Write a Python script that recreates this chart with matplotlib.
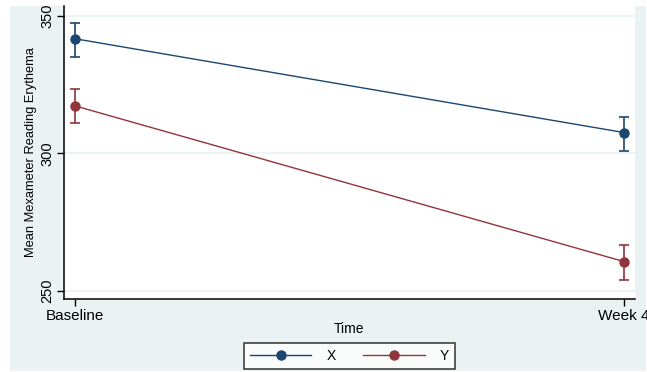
import matplotlib.pyplot as plt
from matplotlib.patches import Rectangle
from matplotlib.lines import Line2D

plt.rcParams['font.family'] = ['Liberation Sans', 'DejaVu Sans']

times = ['Baseline', 'Week 4']
groups = ['X', 'Y']
means = {'X': [341.7, 307.6], 'Y': [317.3, 260.7]}
ci_low = {'X': [335.2, 300.9], 'Y': [311.0, 254.0]}
ci_high = {'X': [347.6, 313.4], 'Y': [323.5, 266.7]}
colors = {'X': '#1a476f', 'Y': '#90353b'}

W, H = 647, 372
fig = plt.figure(figsize=(W / 100, H / 100), dpi=100)
fig.patch.set_facecolor('white')

# light graph region behind the plot
bg = '#eaf2f3'
fig.add_artist(Rectangle((10 / W, 1 / H), 636 / W, 365 / H,
                         transform=fig.transFigure, facecolor=bg,
                         edgecolor='none', zorder=-5))

ax = fig.add_axes([64 / W, 73 / H, 571 / W, 293 / H])
ax.set_facecolor('white')

x = list(range(len(times)))
handles = []
for g in groups:
    lo = [m - l for m, l in zip(means[g], ci_low[g])]
    hi = [h - m for m, h in zip(means[g], ci_high[g])]
    ax.errorbar(x, means[g], yerr=[lo, hi], color=colors[g], lw=1.0,
                elinewidth=1.2, capsize=3.5, capthick=1.2,
                marker='o', markersize=6.5, zorder=3)
    handles.append(Line2D([], [], color=colors[g], lw=1.0, marker='o',
                          markersize=6.5, label=g))

ax.set_xlim(-0.02, 1.02)
ax.set_ylim(247.1, 353.6)
ax.set_yticks([250, 300, 350])
ax.set_xticks(x)
ax.set_xticklabels(times, fontsize=11)
ax.tick_params(axis='y', labelsize=10.5, labelrotation=90, length=5,
               width=1, pad=2)
ax.tick_params(axis='x', length=5, width=1, pad=2)
for t in ax.get_yticklabels():
    t.set_va('center')
ax.grid(axis='y', color=bg, lw=1.2)
ax.set_axisbelow(True)
for s in ['top', 'right']:
    ax.spines[s].set_visible(False)
for s in ['left', 'bottom']:
    ax.spines[s].set_linewidth(1.1)

ax.set_xlabel('Time', fontsize=10)
ax.xaxis.set_label_coords(0.5, -0.078)
ax.set_ylabel('Mean Mexameter Reading Erythema', fontsize=9.3)
ax.yaxis.set_label_coords(-0.048, 0.5)

leg = fig.legend(handles=handles, loc='center',
                 bbox_to_anchor=(349.5 / W, 1 - 356 / H),
                 ncol=2, fontsize=10, frameon=True, fancybox=False,
                 edgecolor='black', facecolor='white', handlelength=4.4,
                 handletextpad=1.1, columnspacing=2.0, borderpad=0.45,
                 borderaxespad=0)
leg.get_frame().set_linewidth(1.1)

fig.savefig('out.png', dpi=100)
